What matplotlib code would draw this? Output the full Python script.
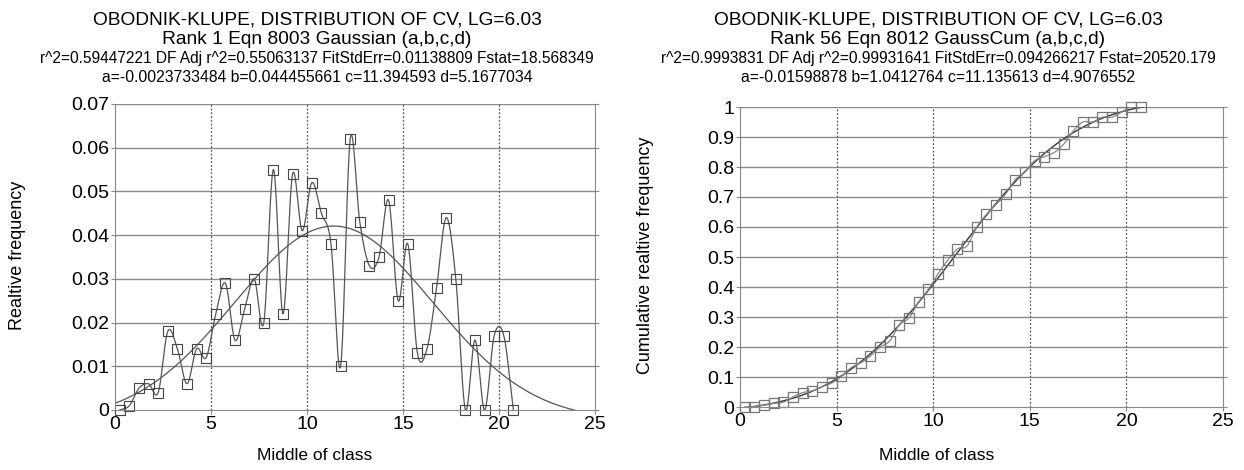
import math
import numpy as np
import matplotlib
matplotlib.use("Agg")
import matplotlib.pyplot as plt

# class midpoints and relative frequencies
mid_class = [0.25, 0.75, 1.25, 1.75, 2.25, 2.75, 3.25, 3.75, 4.25, 4.75,
             5.25, 5.75, 6.25, 6.75, 7.25, 7.75, 8.25, 8.75, 9.25, 9.75,
             10.25, 10.75, 11.25, 11.75, 12.25, 12.75, 13.25, 13.75, 14.25, 14.75,
             15.25, 15.75, 16.25, 16.75, 17.25, 17.75, 18.25, 18.75, 19.25, 19.75,
             20.25, 20.75]
rel_freq = [0.000, 0.001, 0.005, 0.006, 0.004, 0.018, 0.014, 0.006, 0.014, 0.012,
            0.022, 0.029, 0.016, 0.023, 0.030, 0.020, 0.055, 0.022, 0.054, 0.041,
            0.052, 0.045, 0.038, 0.010, 0.062, 0.043, 0.033, 0.035, 0.048, 0.025,
            0.038, 0.013, 0.014, 0.028, 0.044, 0.030, 0.000, 0.016, 0.000, 0.017,
            0.017, 0.000]
cum_freq = [0.000, 0.001, 0.006, 0.012, 0.016, 0.034, 0.048, 0.054, 0.068, 0.080,
            0.102, 0.131, 0.147, 0.170, 0.200, 0.220, 0.275, 0.297, 0.351, 0.392,
            0.444, 0.489, 0.527, 0.537, 0.599, 0.642, 0.675, 0.710, 0.758, 0.783,
            0.821, 0.834, 0.848, 0.876, 0.920, 0.950, 0.950, 0.966, 0.966, 0.983,
            1.000, 1.000]

# fitted parameters (from the titles)
gauss_p = (-0.0023733484, 0.044455661, 11.394593, 5.1677034)
gcum_p = (-0.01598878, 1.0412764, 11.135613, 4.9076552)

titre1 = "OBODNIK-KLUPE, DISTRIBUTION OF CV, LG=6.03"
left_titles = [titre1, "Rank 1 Eqn 8003 Gaussian (a,b,c,d)",
               "r^2=0.59447221 DF Adj r^2=0.55063137 FitStdErr=0.01138809 Fstat=18.568349",
               "a=-0.0023733484 b=0.044455661 c=11.394593 d=5.1677034"]
right_titles = [titre1, "Rank 56 Eqn 8012 GaussCum (a,b,c,d)",
                "r^2=0.9993831 DF Adj r^2=0.99931641 FitStdErr=0.094266217 Fstat=20520.179",
                "a=-0.01598878 b=1.0412764 c=11.135613 d=4.9076552"]

plt.rcParams['font.family'] = ['Liberation Sans', 'DejaVu Sans']


def smooth(x, y, n=20):
    """Courbe lisse (Catmull-Rom) passant par les points, comme le trace d'origine."""
    x = np.asarray(x, float)
    y = np.asarray(y, float)
    m = np.gradient(y, x)
    xs, ys = [], []
    for i in range(len(x) - 1):
        h = x[i + 1] - x[i]
        t = np.linspace(0, 1, n, endpoint=False)
        h00 = 2 * t**3 - 3 * t**2 + 1
        h10 = t**3 - 2 * t**2 + t
        h01 = -2 * t**3 + 3 * t**2
        h11 = t**3 - t**2
        xs.append(x[i] + t * h)
        ys.append(h00 * y[i] + h10 * h * m[i] + h01 * y[i + 1] + h11 * h * m[i + 1])
    xs.append([x[-1]])
    ys.append([y[-1]])
    return np.concatenate(xs), np.concatenate(ys)


def habiller(ax, ymax, ystep, fmt):
    ax.set_xlim(0, 25)
    ax.set_ylim(0, ymax)
    ax.set_xticks([0, 5, 10, 15, 20, 25])
    yt = np.arange(0, ymax + ystep / 2, ystep)
    ax.set_yticks(yt)
    ax.set_yticklabels([fmt(v) for v in yt])
    for v in yt[1:]:
        ax.axhline(v, color='#8a8a8a', lw=1.0, zorder=0)
    for v in [5, 10, 15, 20]:
        ax.axvline(v, color='#555555', lw=0.9, ls=(0, (1.5, 1.5)), zorder=0)
    for s in ax.spines.values():
        s.set_color('#8a8a8a')
    ax.spines['top'].set_visible(False)
    ax.tick_params(axis='both', labelsize=14, length=3, color='#8a8a8a', pad=1)
    ax.tick_params(axis='y', right=True)


fig = plt.figure(figsize=(12.44, 4.70), dpi=100)
ax1 = fig.add_axes([115 / 1244, 1 - 410 / 470, 480 / 1244, 306 / 470])
ax2 = fig.add_axes([740 / 1244, 1 - 407 / 470, 483 / 1244, 300 / 470])

# gauche : fréquences relatives + Gaussienne ajustée
a, b, c, d = gauss_p
xf = np.linspace(0, 25, 400)
ax1.plot(xf, a + b * np.exp(-0.5 * ((xf - c) / d) ** 2), color='#555555', lw=0.9)
sx, sy = smooth(mid_class, rel_freq)
ax1.plot(sx, sy, color='#555555', lw=0.9)
ax1.plot(mid_class, rel_freq, ls='none', marker='s', ms=7.5, mfc='none',
         mec='#444444', mew=0.8, clip_on=False)
habiller(ax1, 0.07, 0.01, lambda v: '0' if v == 0 else f'{v:.2f}')

# droite : fréquences cumulées + Gauss cumulée ajustée
a, b, c, d = gcum_p
erf = np.vectorize(math.erf)
ax2.plot(xf, a + b * 0.5 * (1 + erf((xf - c) / (d * math.sqrt(2)))), color='#333333', lw=1.0)
sx, sy = smooth(mid_class, cum_freq)
ax2.plot(sx, sy, color='#888888', lw=0.9)
ax2.plot(mid_class, cum_freq, ls='none', marker='s', ms=7.5, mfc='none',
         mec='#777777', mew=0.9, clip_on=False)
habiller(ax2, 1.0, 0.1, lambda v: '0' if v == 0 else ('1' if v == 1 else f'{v:.1f}'))

# titres
ys = [20, 40, 59, 77]
sz = [13.8, 13.8, 11.2, 11.3]
for xc, lignes in [(317 / 1244, left_titles), (938 / 1244, right_titles)]:
    for txt, yy, s in zip(lignes, ys, sz):
        fig.text(xc, 1 - yy / 470, txt, ha='center', va='center', fontsize=s)

fig.text(18 / 1244, 1 - 255 / 470, "Realtive frequency", rotation=90, ha='center', va='center', fontsize=13)
fig.text(645 / 1244, 1 - 255 / 470, "Cumulative realtive frequency", rotation=90, ha='center', va='center', fontsize=13)
fig.text(315 / 1244, 1 - 455 / 470, "Middle of class", ha='center', va='center', fontsize=12.5)
fig.text(937 / 1244, 1 - 455 / 470, "Middle of class", ha='center', va='center', fontsize=12.5)

fig.savefig("out.png", dpi=100)
